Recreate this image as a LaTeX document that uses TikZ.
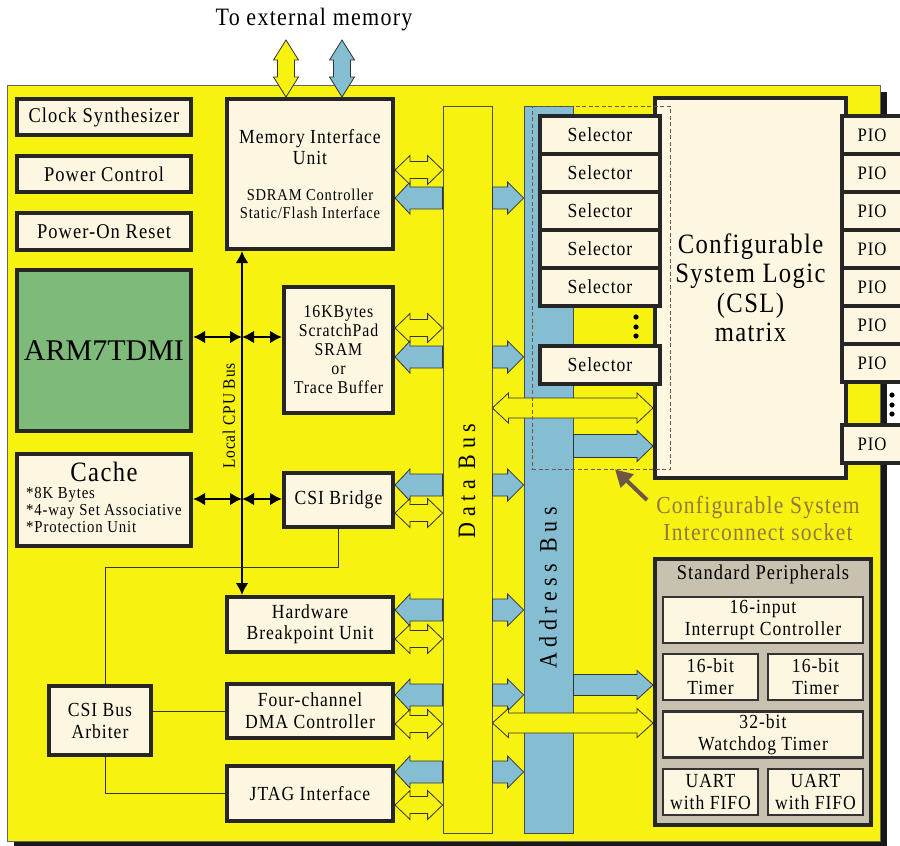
\documentclass[tikz,border=0pt]{standalone}
\usepackage{fontspec}
\setmainfont{Liberation Serif}[FakeStretch=0.88,LetterSpace=5]
\newfontfamily\widefont{Liberation Serif}[FakeStretch=0.88,LetterSpace=22]
\newfontfamily\tightfont{Liberation Serif}
\usetikzlibrary{calc,arrows.meta}

\definecolor{board}{RGB}{247,242,16}
\definecolor{cream}{RGB}{253,247,225}
\definecolor{busblue}{RGB}{133,190,211}
\definecolor{armgreen}{RGB}{126,186,122}
\definecolor{spgrey}{RGB}{200,193,175}
\definecolor{sockbrown}{RGB}{145,120,65}
\definecolor{ptrbrown}{RGB}{110,85,70}

\tikzset{
  blk/.style={draw=black!85, line width=4, fill=cream, align=center, inner sep=0},
  pbox/.style={draw=black!80, line width=2.5, fill=cream, align=center, inner sep=0,
    minimum height=46, font=\fontsize{20}{22}\selectfont},
  bus/.style={draw=black!70, line width=0.8, inner sep=0, minimum width=49, minimum height=727},
  fat/.style={draw=black!80, line width=0.8, line join=miter},
  wire/.style={draw=black!80, line width=0.8},
  cpu/.style={line width=2.5, {Latex[length=12pt,width=13pt]}-{Latex[length=12pt,width=13pt]}},
  ptr/.style={draw=ptrbrown, line width=4, -{Triangle[length=17pt,width=18pt]}},
}
\newcommand\smallsz{\fontsize{16.5}{17.5}\selectfont}

% fat arrow with one head: from #2 to #3, shaft half #4, head half #5, head length #6
\newcommand\sarrow[6][]{%
  \coordinate (arrB) at ($(#3)!#6!(#2)$);
  \draw[fat,#1] ($(#2)!#4!90:(#3)$) -- ($(arrB)!#4!-90:(#2)$) -- ($(arrB)!#5!-90:(#2)$)
    -- (#3) -- ($(arrB)!#5!90:(#2)$) -- ($(arrB)!#4!90:(#2)$) -- ($(#2)!#4!-90:(#3)$) -- cycle;}
% fat arrow with two heads
\newcommand\darrow[6][]{%
  \coordinate (arrA) at ($(#2)!#6!(#3)$);
  \coordinate (arrB) at ($(#3)!#6!(#2)$);
  \draw[fat,#1] (#2) -- ($(arrA)!#5!90:(#3)$) -- ($(arrA)!#4!90:(#3)$)
    -- ($(arrB)!#4!-90:(#2)$) -- ($(arrB)!#5!-90:(#2)$) -- (#3)
    -- ($(arrB)!#5!90:(#2)$) -- ($(arrB)!#4!90:(#2)$)
    -- ($(arrA)!#4!-90:(#3)$) -- ($(arrA)!#5!-90:(#3)$) -- cycle;}

\begin{document}
\begin{tikzpicture}[x=1pt,y=-1pt]
\useasboundingbox (0,0) rectangle (900,846);
\clip (0,0) rectangle (900,846);

% chip board
\fill[black!90] (14,92) rectangle (887,850);
\draw[black!60, line width=0.8, fill=board] (7,85) rectangle (880,841);

% buses
\node[bus, fill=board] (dbus) at (467.5,469.5) {};
\node[bus, fill=busblue] (abus) at (548.5,469.5) {};
\node[rotate=90, font=\widefont\fontsize{25}{25}\selectfont] (dbuslbl) at (467,481) {Data Bus};
\node[rotate=90, font=\widefont\fontsize{25}{25}\selectfont] (abuslbl) at (548,588) {Address Bus};

% CSL matrix, selectors and PIOs
\node[blk, minimum width=191, minimum height=380, font=\fontsize{28}{29.5}\selectfont] (csl)
  at (750.5,288) {Configurable\\System Logic\\(CSL)\\matrix};
\foreach \y in {135,173,211,249,287,365}
  \node[blk, minimum width=120, minimum height=38, font=\fontsize{20}{20}\selectfont] (sel\y) at (600,\y) {Selector};
\foreach \y in {135,173,211,249,287,325,363,444}
  \node[blk, minimum width=61, minimum height=38, font=\fontsize{19}{19}\selectfont] (pio\y) at (872,\y) {PIO};

% standard peripherals
\node[draw=black!85, line width=4, fill=spgrey, minimum width=216, minimum height=266, inner sep=0] (sp) at (763,692) {};
\node[font=\fontsize{21}{21}\selectfont] (sptitle) at (763,574) {Standard Peripherals};
\node[pbox, minimum width=200] (intc) at (763,620) {16-input\\Interrupt Controller};
\node[pbox, minimum width=95] (tmr1) at (710.5,677) {16-bit\\Timer};
\node[pbox, minimum width=95] (tmr2) at (815.5,677) {16-bit\\Timer};
\node[pbox, minimum width=200] (wdt) at (763,734.5) {32-bit\\Watchdog Timer};
\node[pbox, minimum width=95] (uart1) at (710.5,792) {UART\\with FIFO};
\node[pbox, minimum width=95] (uart2) at (815.5,792) {UART\\with FIFO};

% left column
\node[blk, minimum width=174, minimum height=36, font=\fontsize{21}{21}\selectfont] (clk) at (104,117) {Clock Synthesizer};
\node[blk, minimum width=174, minimum height=36, font=\fontsize{21}{21}\selectfont] (pwr) at (104,174) {Power Control};
\node[blk, minimum width=174, minimum height=37, font=\fontsize{21}{21}\selectfont] (por) at (104,231.5) {Power-On Reset};
\node[blk, fill=armgreen, minimum width=174, minimum height=161, font=\tightfont\fontsize{30}{30}\selectfont] (arm)
  at (104,350.5) {ARM7TDMI};
\node[blk, minimum width=174, minimum height=92] (cache) at (104,500)
  {\fontsize{28}{28}\selectfont Cache\\[4pt]\fontsize{16.8}{17}\selectfont
   \begin{tabular}[t]{@{}l@{}}{*}8K Bytes\\{*}4-way Set Associative\\{*}Protection Unit\end{tabular}};
\node[blk, minimum width=102, minimum height=69, font=\fontsize{20}{22}\selectfont] (arb) at (100,720.5) {CSI Bus\\Arbiter};

% middle column
\node[blk, minimum width=166, minimum height=150, font=\fontsize{20}{17.5}\selectfont] (miu) at (310,174)
  {Memory Interface\\[2.5pt]Unit\\[18pt]\smallsz SDRAM Controller\\[0.5pt]\smallsz Static/Flash Interface};
\node[blk, minimum width=109, minimum height=126, font=\fontsize{18}{19}\selectfont] (sram) at (338.5,350)
  {16KBytes\\ScratchPad\\SRAM\\or\\Trace Buffer};
\node[blk, minimum width=109, minimum height=54, font=\fontsize{20}{20}\selectfont] (csib) at (338.5,500) {CSI Bridge};
\node[blk, minimum width=166, minimum height=55, font=\fontsize{20}{21}\selectfont] (hbu) at (310,624.5) {Hardware\\Breakpoint Unit};
\node[blk, minimum width=166, minimum height=54, font=\fontsize{20}{22}\selectfont] (dma) at (310,711) {Four-channel\\DMA Controller};
\node[blk, minimum width=166, minimum height=55, font=\fontsize{20}{20}\selectfont] (jtag) at (310,793.5) {JTAG Interface};

% block <-> bus arrows
\foreach \blk/\ya/\yb in {miu/170/198, sram/328/357, csib/513/485, hbu/639/610, dma/724/695, jtag/805/772}{
  \sarrow[fill=busblue]{dbus.west |- 0,\yb}{\blk.east |- 0,\yb}{11pt}{16pt}{15pt}
  \sarrow[fill=busblue]{dbus.east |- 0,\yb}{abus.west |- 0,\yb}{11pt}{16pt}{16pt}
  \darrow[fill=board]{\blk.east |- 0,\ya}{dbus.west |- 0,\ya}{8.5pt}{14.5pt}{15pt}
}
\darrow[fill=board]{dbus.east |- 0,408}{csl.west |- 0,408}{10pt}{15pt}{16pt}
\sarrow[fill=busblue]{abus.east |- 0,446}{csl.west |- 0,446}{11.5pt}{15.5pt}{16pt}
\sarrow[fill=busblue]{abus.east |- 0,685}{sp.west |- 0,685}{10.5pt}{14.5pt}{16pt}
\darrow[fill=board]{dbus.east |- 0,723}{sp.west |- 0,723}{10pt}{14.5pt}{16pt}

% external memory
\node[font=\fontsize{25}{25}\selectfont] (extmem) at (314,20) {To external memory};
\coordinate (ext1) at (286,40);
\coordinate (ext2) at (342,40);
\darrow[fill=board]{ext1}{miu.north -| ext1}{8.5pt}{12.5pt}{20pt}
\darrow[fill=busblue]{ext2}{miu.north -| ext2}{8.5pt}{12.5pt}{20pt}

% local CPU bus
\coordinate (cpuA) at (242,337);
\coordinate (cpuC) at (242,499);
\draw[cpu] (miu.south -| cpuA) -- (hbu.north -| cpuA);
\draw[cpu] (arm.east |- cpuA) -- (cpuA);
\draw[cpu] (cpuA) -- (sram.west |- cpuA);
\draw[cpu] (cache.east |- cpuC) -- (cpuC);
\draw[cpu] (cpuC) -- (csib.west |- cpuC);
\node[rotate=90, font=\fontsize{17.5}{17.5}\selectfont] (cpulbl) at (229,416) {Local CPU Bus};

% CSI control wires
\draw[wire] (csib.south) |- (105,567) -- (arb.north -| 105,0);
\draw[wire] (arb.east |- dma.west) -- (dma.west);
\draw[wire] (arb.south -| 105,0) |- (jtag.west);

% CSI socket
\node[draw=ptrbrown, dash pattern=on 4pt off 2.5pt, line width=0.8, minimum width=138, minimum height=363, inner sep=0] (sock)
  at (601,287.5) {};
\node[text=sockbrown, font=\fontsize{24.5}{27}\selectfont, align=center] (socktxt) at (758,518)
  {Configurable System\\Interconnect socket};
\coordinate (ptrtail) at (647,500);
\draw[ptr] (ptrtail) -- (sock.south -| 615,0);

% more selectors / PIOs
\foreach \y in {317,327,336} \fill (636,\y) circle (2.6);
\foreach \y in {395,405,414} \fill (892,\y) circle (2.6);
\end{tikzpicture}
\end{document}
